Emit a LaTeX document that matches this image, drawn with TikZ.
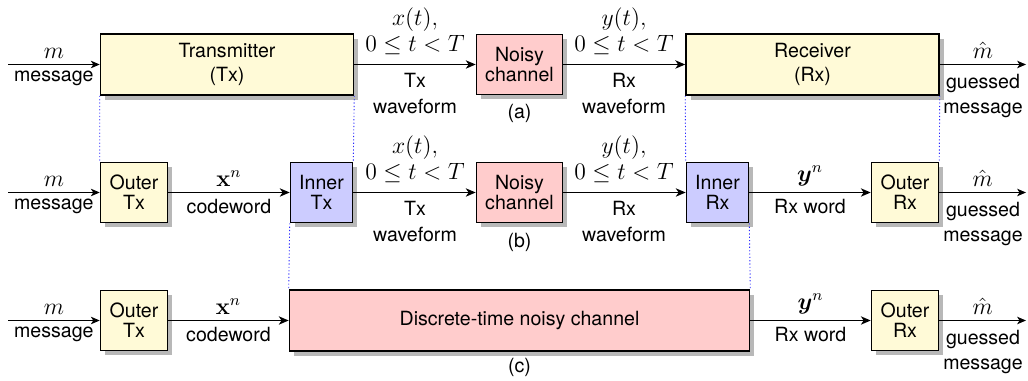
\documentclass[tikz,border=0pt]{standalone}
\usepackage{amsmath}
\usepackage[no-math]{fontspec}
\setmainfont{TeX Gyre Heros}[Scale=0.85]
\usetikzlibrary{shadows,arrows.meta,calc}

\definecolor{cream}{RGB}{255,250,215}
\definecolor{rose}{RGB}{255,204,204}
\definecolor{lilac}{RGB}{204,204,255}
\definecolor{guideblue}{RGB}{40,40,255}

\begin{document}
\begin{tikzpicture}[x=0.508pt, y=-0.508pt,
  font=\fontsize{11.7}{13.2}\selectfont,
  blk/.style={draw, thick, inner sep=0pt, align=center,
    drop shadow={shadow xshift=2.5pt, shadow yshift=-2.5pt, fill=black!28, opacity=1}},
  wide/.style={blk, fill=cream, minimum width=128.5pt, minimum height=31pt,
    font=\fontsize{11.7}{12}\selectfont},
  chan/.style={blk, fill=rose, minimum width=43.7pt, minimum height=30.5pt,
    font=\fontsize{11.7}{10.2}\selectfont},
  outer/.style={blk, fill=cream, minimum width=34pt, minimum height=30.5pt,
    font=\fontsize{11.7}{10.2}\selectfont},
  inner/.style={blk, fill=lilac, minimum width=31.5pt, minimum height=30.5pt,
    font=\fontsize{11.7}{10.2}\selectfont},
  arr/.style={thick, -{Stealth[length=5pt, width=4.2pt, inset=1.4pt]}},
  ioarr/.style={line width=0.5pt, -{Stealth[length=4.5pt, width=3.8pt, inset=1.2pt]}},
  lbl/.style={align=center, inner sep=0pt},
  hatlbl/.style={midway, above, inner sep=2.6pt},
  guide/.style={draw=guideblue, line width=0.45pt, dash pattern=on 0.6pt off 1.1pt},
]
\useasboundingbox (0,0) rectangle (1028,381);

% ---------- (a) ----------
\node[wide] (tx) at (227,64.5) {Transmitter\\(Tx)};
\node[chan] (nca) at (519.5,64.5) {Noisy\\channel};
\node[wide] (rx) at (812.5,64.5) {Receiver\\(Rx)};
\coordinate (ina) at (8,64.5);
\coordinate (outa) at (1026,64.5);

\draw[ioarr] (ina) -- (tx.west)
  node[midway, above] {$m$} node[midway, below] {message};
\draw[arr] (tx.east) -- (nca.west);
\draw[arr] (nca.east) -- (rx.west);
\draw[ioarr] (rx.east) -- (outa) node[hatlbl] {$\hat{m}$};

\node[lbl] at (415,31) {$x(t),$\\$0\le t<T$};
\node[lbl] at (415,94) {Tx\\waveform};
\node[lbl] at (624,31) {$y(t),$\\$0\le t<T$};
\node[lbl] at (624,94) {Rx\\waveform};
\node[lbl] at (983,96) {guessed\\message};
\node[lbl] at (519.5,113) {(a)};

% ---------- (b) ----------
\node[outer] (otb) at (134,192.5) {Outer\\Tx};
\node[inner] (itb) at (321.5,192.5) {Inner\\Tx};
\node[chan] (ncb) at (519.5,192.5) {Noisy\\channel};
\node[inner] (irb) at (717.5,192.5) {Inner\\Rx};
\node[outer] (orb) at (905,192.5) {Outer\\Rx};
\coordinate (inb) at (8,192.5);
\coordinate (outb) at (1026,192.5);

\draw[ioarr] (inb) -- (otb.west)
  node[midway, above] {$m$} node[midway, below] {message};
\draw[arr] (otb.east) -- (itb.west)
  node[midway, above] {$\mathbf{x}^n$} node[midway, below] {codeword};
\draw[arr] (itb.east) -- (ncb.west);
\draw[arr] (ncb.east) -- (irb.west);
\draw[arr] (irb.east) -- (orb.west)
  node[midway, above] {$\boldsymbol{y}^n$} node[midway, below] {Rx word};
\draw[ioarr] (orb.east) -- (outb) node[hatlbl] {$\hat{m}$};

\node[lbl] at (415,159) {$x(t),$\\$0\le t<T$};
\node[lbl] at (415,222) {Tx\\waveform};
\node[lbl] at (624,159) {$y(t),$\\$0\le t<T$};
\node[lbl] at (624,222) {Rx\\waveform};
\node[lbl] at (983,224) {guessed\\message};
\node[lbl] at (519.5,242) {(b)};

% ---------- (c) ----------
\node[outer] (otc) at (134,320.5) {Outer\\Tx};
\node[blk, fill=rose, minimum width=233.7pt, minimum height=31pt] (dtc) at (519.5,320.5)
  {Discrete-time noisy channel};
\node[outer] (orc) at (905,320.5) {Outer\\Rx};
\coordinate (inc) at (8,320.5);
\coordinate (outc) at (1026,320.5);

\draw[ioarr] (inc) -- (otc.west)
  node[midway, above] {$m$} node[midway, below] {message};
\draw[arr] (otc.east) -- (dtc.west)
  node[midway, above] {$\mathbf{x}^n$} node[midway, below] {codeword};
\draw[arr] (dtc.east) -- (orc.west)
  node[midway, above] {$\boldsymbol{y}^n$} node[midway, below] {Rx word};
\draw[ioarr] (orc.east) -- (outc) node[hatlbl] {$\hat{m}$};

\node[lbl] at (983,352) {guessed\\message};
\node[lbl] at (519.5,367) {(c)};

% ---------- dotted guides between the levels ----------
\draw[guide] (tx.south west) -- (otb.north west);
\draw[guide] (tx.south east) -- (itb.north east);
\draw[guide] (rx.south west) -- (irb.north west);
\draw[guide] (rx.south east) -- (orb.north east);
\draw[guide] (itb.south west) -- (dtc.north west);
\draw[guide] (irb.south east) -- (dtc.north east);
\end{tikzpicture}
\end{document}
